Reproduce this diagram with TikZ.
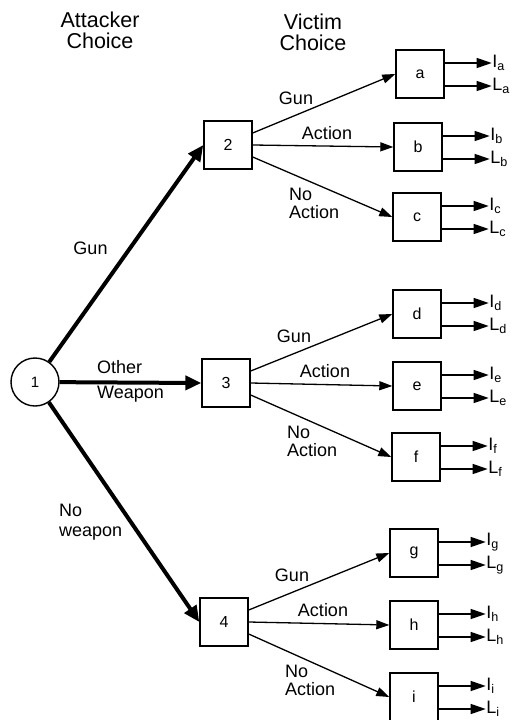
\documentclass[tikz,border=0pt]{standalone}
\usepackage{fontspec}
\setmainfont{Liberation Sans}
\usetikzlibrary{
	arrows.meta,
	positioning
}

\begin{document}
\begin{tikzpicture}[x=1pt, y=-1pt,
  titulo/.style={align=center, inner sep=0pt, font=\fontsize{21.5}{21}\selectfont},
  caja/.style={rectangle, draw, line width=1.4pt, minimum size=48pt,
    inner sep=0pt, font=\fontsize{16}{16}\selectfont},
  etiqueta/.style={align=left, inner sep=0pt, font=\fontsize{18}{18}\selectfont},
  salida/.style={anchor=west, inner sep=0.5pt, font=\fontsize{18}{18}\selectfont},
  rama/.style={-{Triangle[length=13pt, width=9pt]}, line width=1.3pt},
  resultado/.style={-{Triangle[length=15pt, width=10pt]}, line width=1.3pt},
  gruesa/.style={-{Triangle[length=16pt, width=14pt]}, line width=4pt}
]
\useasboundingbox (0,0) rectangle (512,720);
\node[titulo] (atacante) at (100,30.5) {Attacker\\Choice};
\node[titulo] (victima) at (313,32.5) {Victim\\Choice};

\node[circle, draw, line width=1.4pt, minimum size=48pt, inner sep=0pt,
  font=\fontsize{15}{15}\selectfont] (n1) at (35,382) {1};
\node[caja] (n2) at (228,145) {2};
\node[caja] (n3) at (226,383) {3};
\node[caja] (n4) at (224,622) {4};

\draw[gruesa] (n1) -- (n2.west);
\draw[gruesa] (n1) -- (n3.west);
\draw[gruesa] (n1) -- (n4.west);
\node[etiqueta] (arma) at (90.5,248) {Gun};
\node[etiqueta, anchor=west] (otra) at (97,381.5) {Other\\[7pt]Weapon};
\node[etiqueta, anchor=west] (sinarma) at (59,522.5) {No\\[2pt]weapon};

\foreach \hoja/\x/\y in {a/420/74, b/418/147, c/417/217, d/417/314,
  e/417/386, f/416/457, g/414/553, h/414/625, i/414/697}
{
  \node[caja] (\hoja) at (\x,\y) {\hoja};
  \coordinate (pI\hoja) at ([shift={(47pt,11pt)}]\hoja.east);
  \coordinate (pL\hoja) at ([shift={(47pt,-12pt)}]\hoja.east);
  \node[salida] (I\hoja) at (pI\hoja) {I\textsubscript{\hoja}};
  \node[salida] (L\hoja) at (pL\hoja) {L\textsubscript{\hoja}};
  \draw[resultado] (\hoja.east |- pI\hoja) -- (pI\hoja);
  \draw[resultado] (\hoja.east |- pL\hoja) -- (pL\hoja);
}

\foreach \nodo/\uno/\dos/\tres in {n2/a/b/c, n3/d/e/f, n4/g/h/i}
{
  \draw[rama] ([yshift=12pt]\nodo.east) -- (\uno.west);
  \draw[rama] (\nodo.east) -- (\dos.west);
  \draw[rama] ([yshift=-12pt]\nodo.east) -- (\tres.west);
  \node[etiqueta] (gun\nodo) at ([shift={(68pt,47pt)}]\nodo.center) {Gun};
  \node[etiqueta] (act\nodo) at ([shift={(99pt,12pt)}]\nodo.center) {Action};
  \node[etiqueta, anchor=west] (no\nodo) at ([shift={(61pt,-58pt)}]\nodo.center) {No\\Action};
}
\end{tikzpicture}
\end{document}
